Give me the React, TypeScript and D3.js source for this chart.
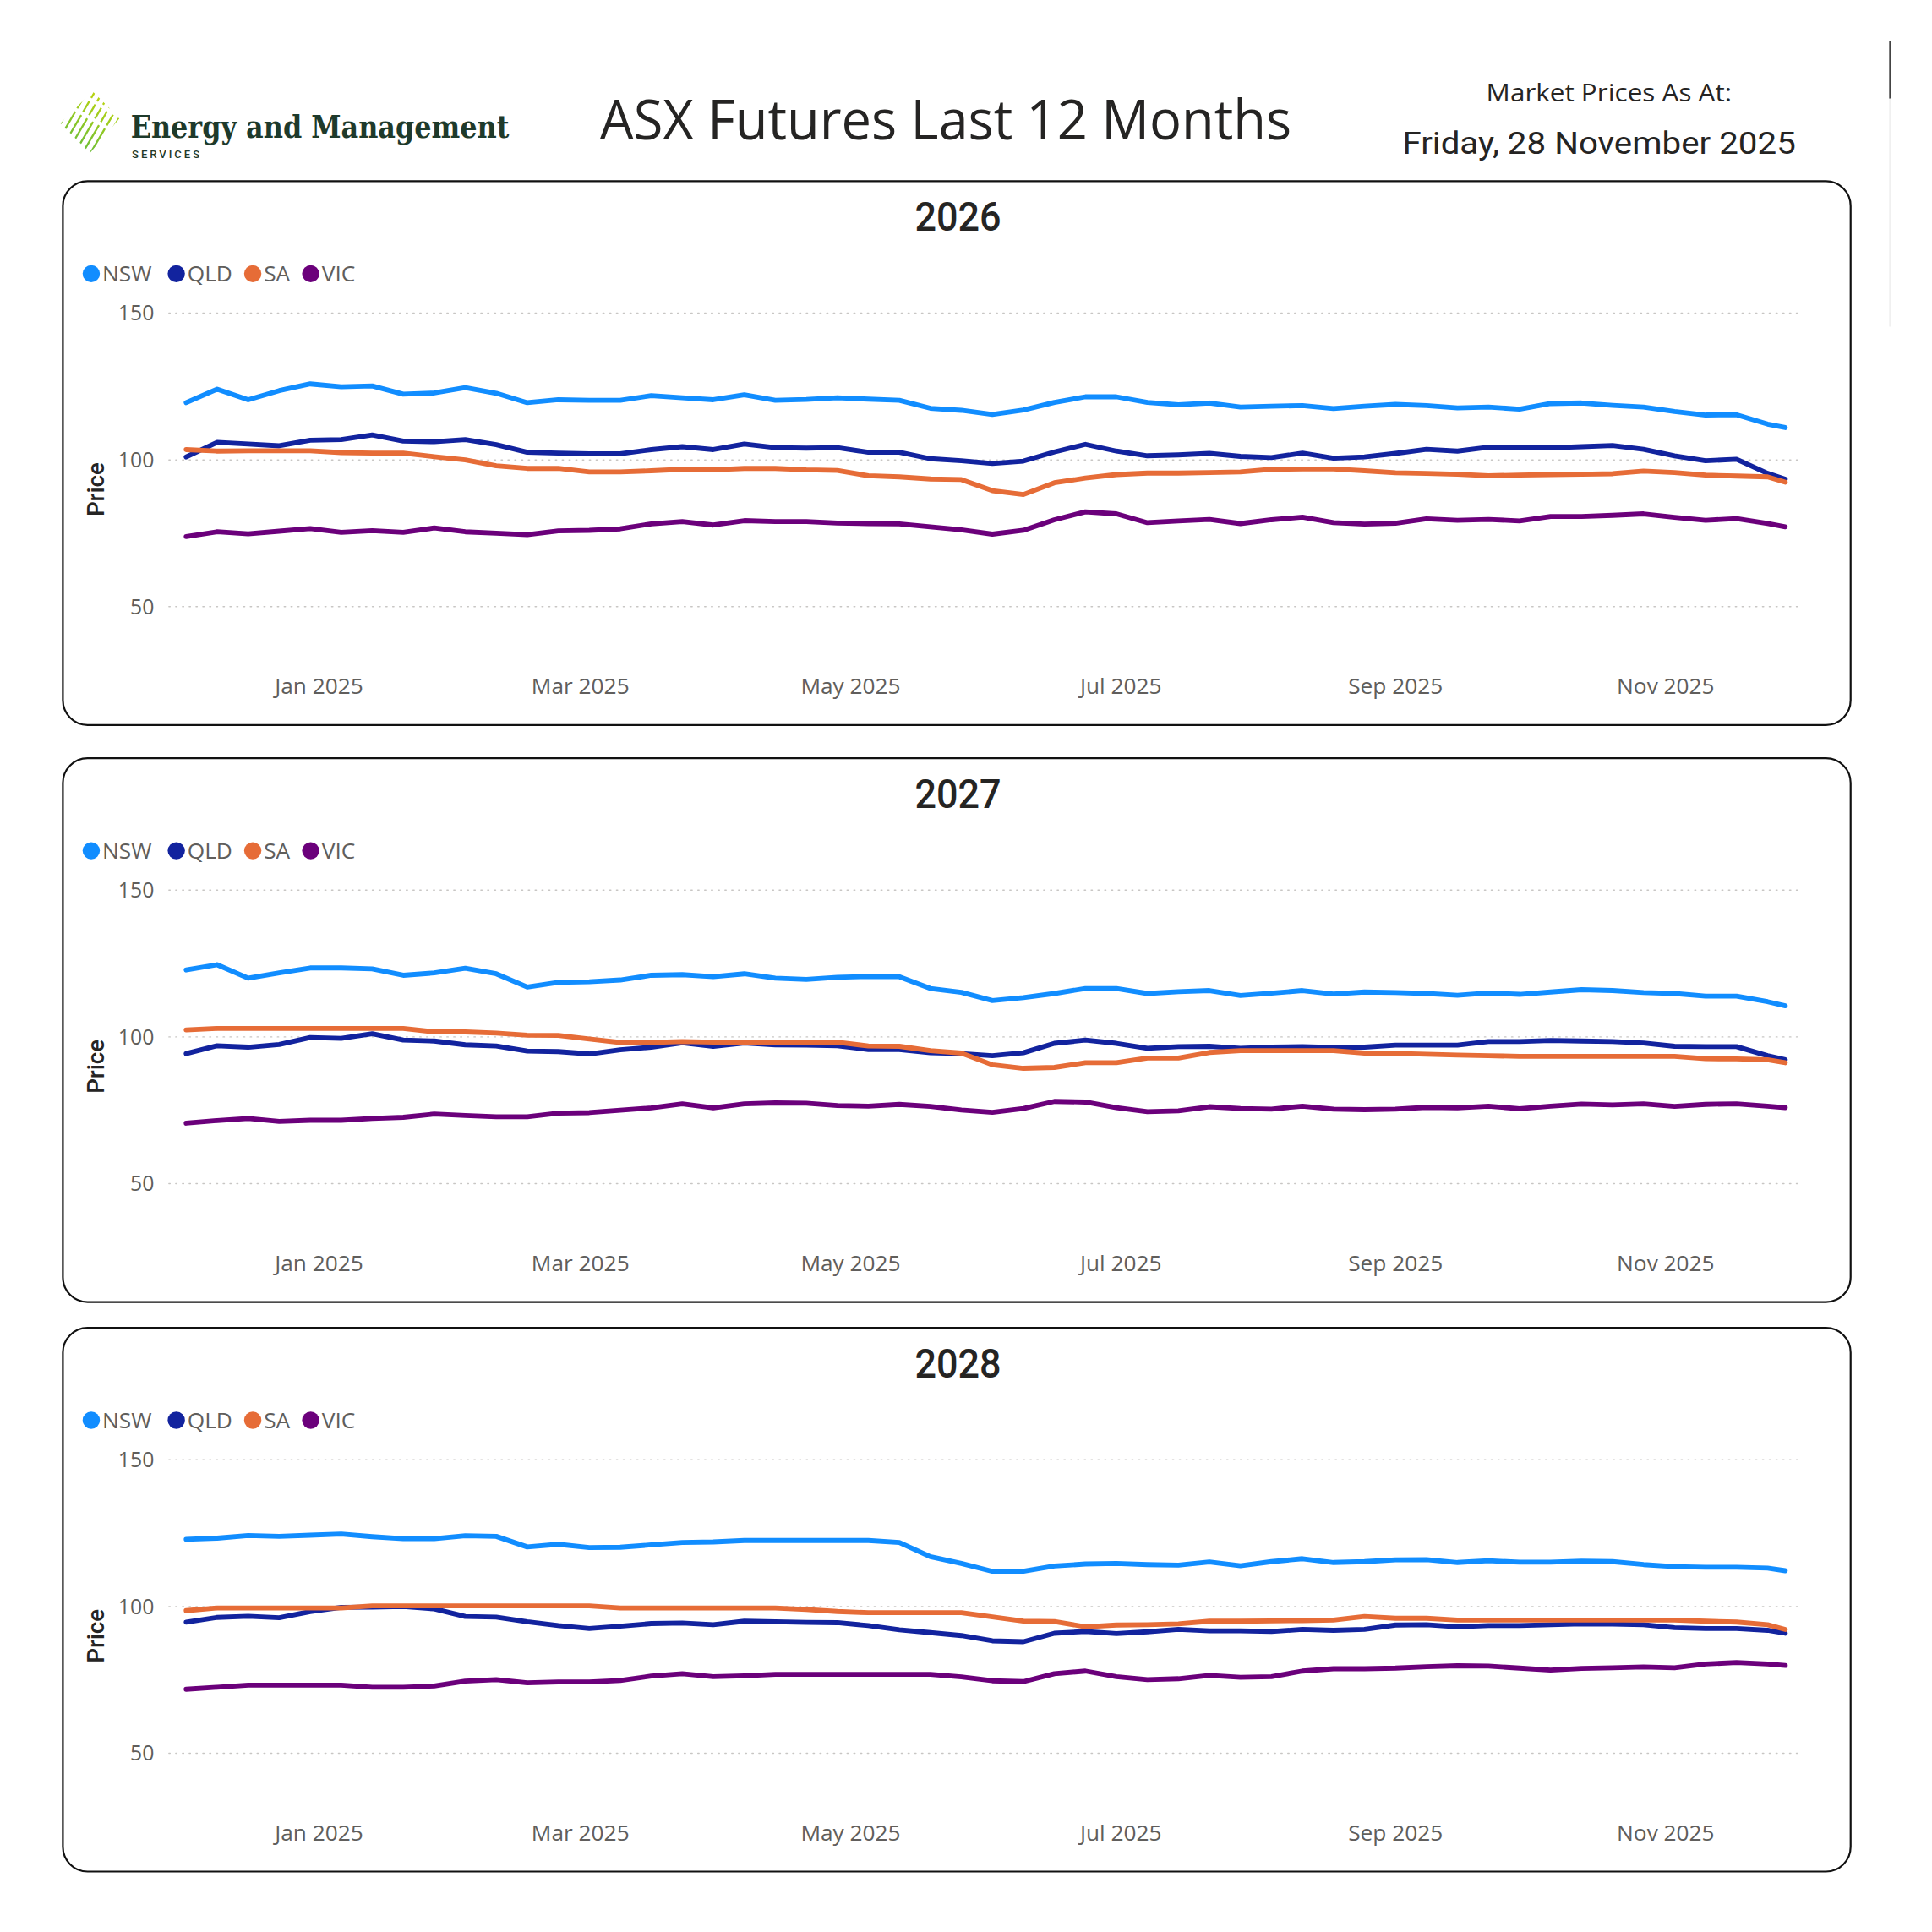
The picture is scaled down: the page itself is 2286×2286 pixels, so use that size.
import * as d3 from 'd3'
import { useEffect } from 'react'

// weekly closing prices, Dec 2024 - Nov 2025
const lastDate = new Date(2025, 10, 28)
const dates = [...d3.timeMonday.range(new Date(2024, 11, 2), new Date(2025, 10, 25)), lastDate]

const regions = ['NSW', 'QLD', 'SA', 'VIC']
const colours = ['#118DFF', '#12239E', '#E66C37', '#6B007B']
const years = ['2026', '2027', '2028']
const yTicks = [50, 100, 150]

const nsw2026 = [119.5, 124.1, 120.5, 123.6, 125.9, 124.9, 125.2, 122.4, 122.8, 124.6, 122.7, 119.5, 120.5, 120.3, 120.3, 121.9, 121.2, 120.5, 122.2, 120.3, 120.6, 121.2, 120.7, 120.3, 117.6, 116.9, 115.5, 117, 119.6, 121.5, 121.5, 119.6, 118.8, 119.4, 118, 118.3, 118.5, 117.5, 118.3, 118.9, 118.5, 117.7, 118, 117.3, 119.2, 119.4, 118.6, 118, 116.5, 115.3, 115.4, 112.2, 111]
const qld2026 = [101, 106, 105.4, 104.8, 106.7, 106.9, 108.5, 106.4, 106.2, 106.9, 105.2, 102.6, 102.3, 102.1, 102.1, 103.5, 104.5, 103.5, 105.4, 104.2, 104, 104.2, 102.6, 102.6, 100.4, 99.7, 98.8, 99.6, 102.7, 105.3, 103, 101.4, 101.7, 102.2, 101.2, 100.8, 102.3, 100.6, 101, 102.2, 103.6, 103, 104.3, 104.3, 104.1, 104.5, 104.9, 103.6, 101.4, 99.7, 100.2, 95.4, 93.4]
const sa2026 = [103.5, 103, 103.1, 103.1, 103.1, 102.5, 102.3, 102.3, 101.1, 100, 98, 97.1, 97.1, 95.9, 95.9, 96.3, 96.8, 96.6, 97.1, 97.1, 96.6, 96.4, 94.6, 94.2, 93.5, 93.3, 89.5, 88.2, 92.2, 93.8, 95, 95.5, 95.5, 95.7, 95.9, 96.8, 96.9, 96.9, 96.3, 95.6, 95.4, 95.1, 94.6, 94.8, 95, 95.1, 95.3, 96.2, 95.7, 94.8, 94.5, 94.2, 92.4]
const vic2026 = [73.9, 75.5, 74.8, 75.7, 76.6, 75.3, 75.9, 75.3, 76.8, 75.5, 75, 74.5, 75.8, 76, 76.5, 78.2, 79, 77.8, 79.3, 79, 79, 78.5, 78.3, 78.2, 77.2, 76.2, 74.7, 76, 79.6, 82.3, 81.6, 78.6, 79.2, 79.7, 78.3, 79.6, 80.5, 78.6, 78.1, 78.4, 79.9, 79.4, 79.7, 79.2, 80.7, 80.7, 81.1, 81.6, 80.4, 79.4, 80, 78.3, 77.2]

const nsw2027 = [122.8, 124.6, 120, 121.8, 123.5, 123.5, 123.2, 121, 121.8, 123.4, 121.5, 117, 118.6, 118.8, 119.4, 121, 121.2, 120.5, 121.5, 120, 119.6, 120.3, 120.6, 120.5, 116.5, 115.2, 112.4, 113.4, 114.8, 116.5, 116.5, 114.8, 115.4, 115.8, 114.1, 114.9, 115.8, 114.6, 115.3, 115.1, 114.8, 114.2, 115, 114.5, 115.3, 116.1, 115.8, 115.1, 114.8, 113.9, 113.9, 112, 110.6]
const qld2027 = [94.3, 97, 96.5, 97.4, 99.8, 99.5, 101.1, 98.9, 98.6, 97.3, 96.9, 95.2, 95, 94.2, 95.6, 96.5, 98, 96.8, 97.9, 97.3, 97.2, 97, 95.7, 95.7, 94.6, 94.3, 93.6, 94.6, 97.8, 98.9, 97.8, 96.1, 96.7, 96.8, 96.1, 96.5, 96.7, 96.4, 96.5, 97.2, 97.2, 97.2, 98.4, 98.4, 98.8, 98.6, 98.4, 97.9, 96.8, 96.7, 96.7, 93.6, 92.2]
const sa2027 = [102.4, 102.9, 102.9, 102.9, 102.9, 102.9, 102.9, 102.9, 101.7, 101.7, 101.3, 100.6, 100.5, 99.3, 98.1, 98.1, 98.4, 98.2, 98.2, 98.2, 98.2, 98.2, 96.9, 96.8, 95.3, 94.5, 90.5, 89.3, 89.6, 91.2, 91.2, 92.8, 92.8, 94.7, 95.3, 95.3, 95.3, 95.3, 94.5, 94.4, 94.1, 93.8, 93.6, 93.4, 93.4, 93.4, 93.4, 93.4, 93.4, 92.6, 92.5, 92.2, 91.2]
const vic2027 = [70.6, 71.5, 72.2, 71.2, 71.6, 71.6, 72.2, 72.6, 73.7, 73.2, 72.8, 72.8, 74, 74.2, 75, 75.8, 77.2, 75.8, 77.2, 77.5, 77.4, 76.6, 76.4, 77, 76.3, 75.1, 74.3, 75.6, 78, 77.8, 75.9, 74.5, 74.8, 76.2, 75.6, 75.4, 76.4, 75.4, 75.2, 75.4, 76, 75.8, 76.4, 75.5, 76.4, 77.1, 76.8, 77.2, 76.3, 77, 77.2, 76.4, 75.9]

const nsw2028 = [122.9, 123.3, 124.2, 123.9, 124.3, 124.7, 123.8, 123.1, 123.1, 124.1, 123.9, 120.3, 121.2, 120.1, 120.2, 121, 121.8, 122, 122.5, 122.5, 122.5, 122.5, 122.5, 121.8, 117, 114.7, 112, 112, 113.8, 114.5, 114.7, 114.3, 114.1, 115.2, 113.9, 115.3, 116.3, 115, 115.3, 115.9, 116, 115, 115.6, 115.1, 115.1, 115.5, 115.3, 114.3, 113.6, 113.4, 113.4, 113.1, 112.2]
const qld2028 = [94.7, 96.3, 96.7, 96.2, 98.3, 99.7, 99.8, 100, 99.2, 96.6, 96.4, 94.8, 93.5, 92.5, 93.3, 94.2, 94.4, 93.8, 95, 94.8, 94.6, 94.5, 93.5, 92.1, 91.1, 90.1, 88.3, 88, 90.9, 91.5, 90.8, 91.4, 92.2, 91.7, 91.7, 91.5, 92.2, 91.9, 92.2, 93.7, 93.8, 93.1, 93.5, 93.5, 93.8, 94.1, 94, 93.8, 92.8, 92.5, 92.5, 91.9, 90.9]
const sa2028 = [98.6, 99.5, 99.5, 99.5, 99.5, 99.5, 100.2, 100.2, 100.2, 100.2, 100.2, 100.2, 100.2, 100.2, 99.5, 99.5, 99.5, 99.5, 99.5, 99.5, 99, 98.3, 97.9, 97.9, 97.9, 97.9, 96.5, 95, 94.9, 93.1, 93.7, 93.8, 94.1, 95, 95, 95.1, 95.2, 95.4, 96.6, 96, 96, 95.4, 95.4, 95.4, 95.4, 95.4, 95.4, 95.4, 95.4, 95, 94.7, 93.8, 92.2]
const vic2028 = [71.8, 72.5, 73.2, 73.2, 73.2, 73.2, 72.5, 72.5, 72.9, 74.6, 75.1, 74, 74.3, 74.3, 74.8, 76.3, 77.1, 76.1, 76.4, 76.9, 76.9, 76.9, 76.9, 76.9, 76.9, 76, 74.7, 74.4, 77.1, 78, 76.1, 75.1, 75.4, 76.5, 75.9, 76.1, 78, 78.8, 78.8, 79, 79.5, 79.8, 79.7, 79, 78.3, 78.9, 79.1, 79.4, 79.1, 80.4, 80.9, 80.4, 79.9]

const panelSeries = [
    [nsw2026, qld2026, sa2026, vic2026],
    [nsw2027, qld2027, sa2027, vic2027],
    [nsw2028, qld2028, sa2028, vic2028]
]

// layout is measured in a 1567-wide frame, scaled up to the 2286 canvas
const W = 1567
const panelTops = [147, 615, 1077]
const panelH = 441
const uiFont = '"Open Sans", "Noto Sans", sans-serif'
const dinFont = 'Roboto, "DejaVu Sans", sans-serif'

const x = d3.scaleTime()
    .domain([new Date(2024, 11, 2), lastDate])
    .range([151, 1448])

const fmt = d3.timeFormat('%b %Y')

const Panel = ({ year, top, series }) => {
    const y = d3.scaleLinear().domain([50, 150]).range([top + 345, top + 107])
    const line = d3.line<number>()
        .x((_, i) => x(dates[i]))
        .y(d => y(d))

    const legendX = [74, 143, 205, 252]

    return (
        <g>
            <rect x={51} y={top} width={1450} height={panelH} rx={20} fill="#fff" stroke="#111" strokeWidth={1.5} />
            <text x={777} y={top + 40} textAnchor="middle" fontFamily={dinFont} fontWeight={500}
                fontSize={33} fill="#252423" textLength={70} lengthAdjust="spacingAndGlyphs">{year}</text>

            {regions.map((r, i) => (
                <g key={r}>
                    <circle cx={legendX[i]} cy={top + 75} r={7} fill={colours[i]} />
                    <text x={legendX[i] + 9} y={top + 81.5} fontFamily={uiFont} fontSize={18} fill="#605E5C">{r}</text>
                </g>
            ))}

            {yTicks.map(t => (
                <g key={t}>
                    <line x1={137} x2={1462} y1={y(t)} y2={y(t)} stroke="#c8c6c4" strokeWidth={1}
                        strokeDasharray="1 4.5" strokeLinecap="round" />
                    <text x={125} y={y(t) + 6} textAnchor="end" fontFamily={uiFont} fontSize={17} fill="#605E5C">{t}</text>
                </g>
            ))}

            <text transform={`translate(84,${top + 250}) rotate(-90)`} textAnchor="middle"
                fontFamily={dinFont} fontWeight={500} fontSize={19} fill="#252423">Price</text>

            {x.ticks(d3.timeMonth.every(2)).map(d => (
                <text key={+d} x={x(d)} y={top + 416} textAnchor="middle" fontFamily={uiFont}
                    fontSize={18} fill="#605E5C">{fmt(d)}</text>
            ))}

            {series.map((s, i) => (
                <path key={i} d={line(s)} fill="none" stroke={colours[i]} strokeWidth={4}
                    strokeLinejoin="round" strokeLinecap="round" />
            ))}
        </g>
    )
}

const Logo = () => {
    const offsets = [-20, -14.5, -9, -3.5, 2, 7.5, 13, 18.5]
    return (
        <g>
            <defs>
                <linearGradient id="stripeGrad" x1="1" y1="0" x2="0" y2="1">
                    <stop offset="0" stopColor="#d6dc00" />
                    <stop offset="1" stopColor="#4fb548" />
                </linearGradient>
                <clipPath id="diamond">
                    <polygon points="75,74 97,96 73,124 49,100" />
                </clipPath>
            </defs>
            <g clipPath="url(#diamond)">
                {offsets.map(o => (
                    <line key={o} x1={73 + o * 0.87 + 20} y1={99 + o * 0.5 - 34} x2={73 + o * 0.87 - 20} y2={99 + o * 0.5 + 34}
                        stroke="url(#stripeGrad)" strokeWidth={1.6} strokeDasharray="22 3 10 3 30" />
                ))}
            </g>
            <text x={106} y={112} fontFamily='"DejaVu Serif Condensed", "DejaVu Serif", serif' fontWeight="bold"
                fontSize={26} fill="#1e3a2b" textLength={307} lengthAdjust="spacingAndGlyphs">Energy and Management</text>
            <text x={107} y={128} fontFamily={dinFont} fontWeight={500} fontSize={9} fill="#1e3a2b"
                letterSpacing={2}>SERVICES</text>
        </g>
    )
}

const App = () => {
    useEffect(() => {
        document.body.style.margin = '0'
    }, [])

    return (
        <svg width={2286} height={2286} viewBox={`0 0 ${W} ${W}`}
            style={{ position: 'absolute', left: 0, top: 0, background: '#fff' }}>
            <rect width={W} height={W} fill="#fff" />
            <Logo />
            <text x={767} y={113} textAnchor="middle" fontFamily={uiFont} fontSize={45} fill="#252423"
                textLength={561} lengthAdjust="spacingAndGlyphs">ASX Futures Last 12 Months</text>
            <text x={1305} y={82} textAnchor="middle" fontFamily={uiFont} fontSize={20} fill="#252423"
                textLength={199} lengthAdjust="spacingAndGlyphs">Market Prices As At:</text>
            <text x={1297} y={125} textAnchor="middle" fontFamily={dinFont} fontWeight={400} fontSize={25}
                fill="#252423" textLength={319} lengthAdjust="spacingAndGlyphs">Friday, 28 November 2025</text>
            <line x1={1533} x2={1533} y1={33} y2={80} stroke="#444" strokeWidth={1.5} />
            <line x1={1533} x2={1533} y1={80} y2={265} stroke="#f0f0f0" strokeWidth={1.5} />

            {years.map((yr, i) => (
                <Panel key={yr} year={yr} top={panelTops[i]} series={panelSeries[i]} />
            ))}
        </svg>
    )
}

export default App
